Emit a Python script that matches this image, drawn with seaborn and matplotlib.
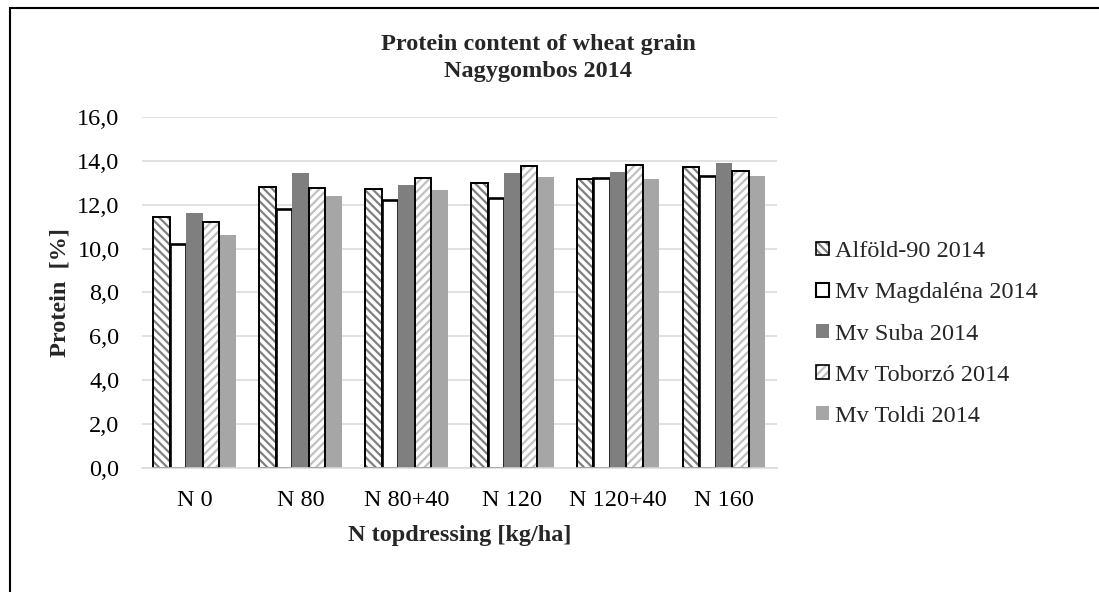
#%% bibliotecas
import pandas as pd
import seaborn as sns
import matplotlib.pyplot as plt
from matplotlib.patches import Patch, Rectangle
from matplotlib.legend_handler import HandlerTuple
from matplotlib.ticker import FuncFormatter

#%% dados
doses = ['N 0', 'N 80', 'N 80+40', 'N 120', 'N 120+40', 'N 160']
varieties = ['Alföld-90 2014', 'Mv Magdaléna 2014', 'Mv Suba 2014',
             'Mv Toborzó 2014', 'Mv Toldi 2014']

alfold = [11.45, 12.80, 12.70, 13.00, 13.15, 13.70]
magdalena = [10.20, 11.80, 12.20, 12.30, 13.20, 13.30]
suba = [11.60, 13.45, 12.90, 13.45, 13.50, 13.90]
toborzo = [11.20, 12.75, 13.20, 13.75, 13.80, 13.55]
toldi = [10.60, 12.40, 12.65, 13.25, 13.15, 13.30]

series = [alfold, magdalena, suba, toborzo, toldi]
rows = []
for var, vals in zip(varieties, series):
    for d, v in zip(doses, vals):
        rows.append({'dose': d, 'variety': var, 'protein': v})
df = pd.DataFrame(rows)

#%% estilo
sns.set_theme(style='white')
plt.rcParams['font.family'] = ['Liberation Serif', 'DejaVu Serif']
plt.rcParams['hatch.linewidth'] = 1.6

FS = 17.5
fill_colors = ['white', 'white', '#7f7f7f', 'white', '#a6a6a6']
hatch_colors = ['#808080', None, None, '#c0c0c0', None]
hatches = ['\\\\\\\\', None, None, '////', None]
edge_widths = [1.4, 1.9, 0, 1.4, 0]

#%% gráfico
fig = plt.figure(figsize=(10.99, 5.92), dpi=100)
ax = fig.add_axes([0.129, 0.2095, 0.578, 0.593])

sns.barplot(data=df, x='dose', y='protein', hue='variety', hue_order=varieties,
            palette=fill_colors, width=0.78, saturation=1, legend=False, ax=ax)

for i, cont in enumerate(ax.containers):
    for p in cont:
        p.set_facecolor(fill_colors[i])
        if hatches[i]:
            # hachura cinza + contorno preto por cima
            p.set_edgecolor(hatch_colors[i])
            p.set_hatch(hatches[i])
            p.set_linewidth(0)
            ax.add_patch(Rectangle((p.get_x(), p.get_y()), p.get_width(), p.get_height(),
                                   fill=False, edgecolor='black', linewidth=edge_widths[i],
                                   zorder=p.get_zorder() + 0.1))
        else:
            p.set_edgecolor('black' if edge_widths[i] else 'none')
            p.set_linewidth(edge_widths[i])

ax.set_ylim(0, 16)
ax.set_yticks(range(0, 17, 2))
ax.yaxis.set_major_formatter(FuncFormatter(lambda y, pos: f'{y:.1f}'.replace('.', ',')))
ax.yaxis.grid(True, color='#d9d9d9', linewidth=1.1)
ax.set_axisbelow(True)
for s in ['top', 'right', 'left']:
    ax.spines[s].set_visible(False)
ax.spines['bottom'].set_color('#d9d9d9')
ax.spines['bottom'].set_linewidth(1.1)
ax.tick_params(axis='x', length=0, pad=16, labelsize=FS, colors='black')
ax.tick_params(axis='y', length=0, pad=16, labelsize=FS, colors='black')

ax.set_xlabel('N topdressing [kg/ha]', fontsize=FS, fontweight='bold', labelpad=10)
ax.set_ylabel('Protein  [%]', fontsize=FS, fontweight='bold', labelpad=5)

fig.text(538 / 1099, 1 - 58 / 592, 'Protein content of wheat grain\nNagygombos 2014',
         ha='center', va='center', fontsize=FS, fontweight='bold', linespacing=1.38)

# legenda
handles = []
for i in range(len(varieties)):
    if hatches[i]:
        h = (Patch(facecolor='white', edgecolor=hatch_colors[i], hatch=hatches[i], linewidth=0),
             Patch(facecolor='none', edgecolor='black', linewidth=1.2))
    else:
        h = Patch(facecolor=fill_colors[i], edgecolor='black' if edge_widths[i] else 'none',
                  linewidth=1.5 if edge_widths[i] else 0)
    handles.append(h)
fig.legend(handles, varieties, loc='center left', bbox_to_anchor=(0.723, 1 - 334 / 592),
           frameon=False, fontsize=FS, handlelength=0.5, handleheight=0.5,
           handletextpad=0.25, labelspacing=0.83,
           handler_map={tuple: HandlerTuple(ndivide=1, pad=0)})

# moldura externa
fig.add_artist(Rectangle((10 / 1099, -0.1), 1.2, 1 - 8 / 592 + 0.1, transform=fig.transFigure,
                         fill=False, edgecolor='black', linewidth=1.5, clip_on=False))

plt.savefig('out.png', dpi=100)
